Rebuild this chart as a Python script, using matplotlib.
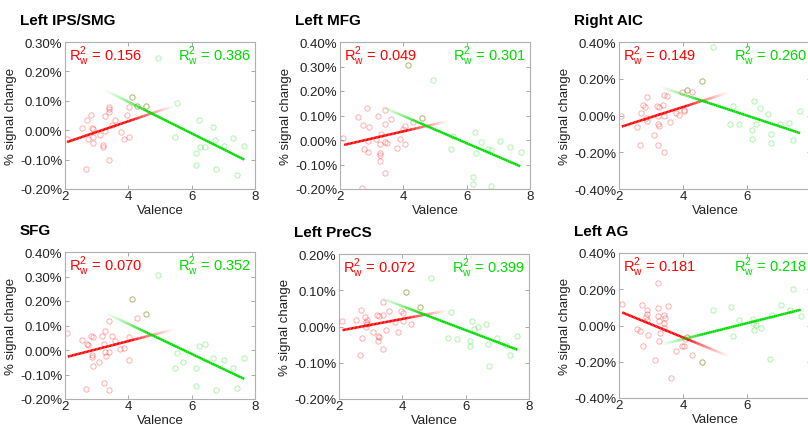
import numpy as np
import matplotlib
matplotlib.use("Agg")
import matplotlib.pyplot as plt
from matplotlib.collections import LineCollection
from matplotlib.colors import to_rgb

plt.rcParams['font.family'] = ['Liberation Sans', 'DejaVu Sans']
plt.rcParams['mathtext.fontset'] = 'custom'
plt.rcParams['mathtext.rm'] = 'Liberation Sans'

# ---- data (valence, % signal change) ----
titles = ["Left IPS/SMG", "Left MFG", "Right AIC", "SFG", "Left PreCS", "Left AG"]
r2_red = ["0.156", "0.049", "0.149", "0.070", "0.072", "0.181"]
r2_green = ["0.386", "0.301", "0.260", "0.352", "0.399", "0.218"]
ylims = [(-0.2, 0.3), (-0.2, 0.4), (-0.4, 0.4), (-0.2, 0.4), (-0.2, 0.2), (-0.4, 0.4)]
ysteps = [0.1, 0.1, 0.2, 0.1, 0.1, 0.2]

ips_red = [(2.07, -0.030), (2.54, 0.009), (2.68, 0.033), (2.82, 0.051), (2.86, 0.009),
           (2.87, 0.005), (2.73, -0.030), (2.87, -0.024), (2.87, -0.044), (2.65, -0.131),
           (3.10, -0.015), (3.21, -0.050), (3.21, -0.057), (3.25, -0.003), (3.26, 0.049),
           (3.40, -0.101), (3.40, 0.080), (3.40, 0.073), (3.38, 0.061), (3.58, 0.036),
           (3.48, 0.019), (3.76, -0.007), (3.86, -0.031), (4.03, -0.024), (3.95, 0.053),
           (4.02, 0.078)]
ips_both = [(4.10, 0.114), (4.27, 0.084), (4.56, 0.081)]
ips_green = [(4.93, 0.247), (5.54, 0.093), (5.46, -0.024), (6.22, 0.033), (6.15, -0.078),
             (6.15, -0.120), (6.26, -0.058), (6.42, -0.058), (6.66, 0.010), (6.73, -0.032),
             (6.76, -0.131), (7.03, -0.055), (7.32, -0.028), (7.43, -0.152), (7.65, -0.055)]
ips_red_fit = [(2.07, -0.040), (5.47, 0.084)]
ips_green_fit = [(3.21, 0.139), (7.66, -0.100)]

mfg_red = [(2.11, 0.008), (2.57, 0.093), (2.84, 0.129), (2.72, 0.060), (2.91, 0.053),
           (2.76, -0.037), (2.89, -0.004), (2.89, -0.048), (2.68, -0.196), (3.13, 0.003),
           (3.21, 0.099), (3.28, 0.026), (3.27, -0.018), (3.25, -0.052), (3.25, -0.061),
           (3.25, -0.086), (3.41, -0.007), (3.50, -0.012), (3.43, 0.124), (3.42, 0.067),
           (3.42, -0.135), (3.61, 0.084), (3.79, -0.034), (3.89, 0.004), (3.99, 0.044),
           (4.05, 0.059), (4.06, -0.015), (4.30, 0.075)]
mfg_both = [(4.14, 0.307), (4.59, 0.090)]
mfg_green = [(4.95, 0.244), (5.58, 0.018), (5.49, -0.035), (6.26, 0.033), (6.29, -0.054),
             (6.45, -0.010), (6.19, -0.151), (6.19, -0.178), (6.78, -0.188), (6.68, -0.038),
             (6.76, -0.042), (7.05, -0.004), (7.36, -0.029), (7.71, -0.050)]
mfg_red_fit = [(2.13, -0.020), (5.47, 0.079)]
mfg_green_fit = [(3.23, 0.141), (7.69, -0.107)]

aic_red = [(2.07, -0.005), (2.55, -0.061), (2.66, -0.159), (2.69, 0.013), (2.74, 0.056),
           (2.82, 0.047), (2.87, 0.101), (2.85, -0.013), (2.87, -0.031), (3.09, -0.106),
           (3.19, 0.054), (3.26, 0.047), (3.22, -0.004), (3.21, -0.045), (3.26, -0.058),
           (3.22, -0.162), (3.38, 0.058), (3.41, 0.110), (3.49, 0.105), (3.41, -0.005),
           (3.41, -0.197), (3.60, -0.036), (3.77, 0.013), (3.86, 0.005), (4.04, 0.032),
           (4.04, 0.022), (3.97, 0.126), (4.28, 0.128)]
aic_both = [(4.12, 0.141), (4.58, 0.190)]
aic_green = [(4.93, 0.372), (5.55, 0.052), (5.47, -0.047), (5.75, -0.047), (6.22, 0.078),
             (6.27, -0.047), (6.15, -0.081), (6.15, -0.128), (6.42, 0.040), (6.67, 0.007),
             (6.74, -0.103), (6.76, -0.150), (7.03, -0.045), (7.32, -0.040), (7.43, -0.134),
             (7.66, 0.025)]
aic_red_fit = [(2.09, -0.060), (5.47, 0.128)]
aic_green_fit = [(3.23, 0.159), (7.66, -0.096)]

sfg_red = [(2.07, 0.070), (2.54, 0.041), (2.68, 0.026), (2.72, 0.022), (2.82, 0.058),
           (2.87, 0.054), (2.85, -0.019), (2.86, -0.030), (2.87, -0.064), (2.66, -0.159),
           (3.08, -0.050), (3.18, 0.059), (3.25, 0.076), (3.22, 0.023), (3.25, -0.007),
           (3.28, -0.024), (3.22, -0.135), (3.40, -0.162), (3.40, 0.120), (3.48, 0.058),
           (3.59, 0.038), (3.39, -0.009), (3.75, 0.004), (3.86, 0.007), (4.01, 0.055),
           (4.03, -0.041), (4.26, 0.130)]
sfg_both = [(4.10, 0.207), (4.56, 0.145)]
sfg_green = [(4.93, 0.307), (5.53, -0.011), (5.47, -0.072), (5.74, -0.047), (6.22, 0.015),
             (6.42, 0.024), (6.15, -0.072), (6.15, -0.146), (6.68, -0.032), (6.76, -0.164),
             (7.03, -0.039), (7.32, -0.074), (7.42, -0.155), (7.66, -0.031)]
sfg_red_fit = [(2.09, -0.027), (5.47, 0.085)]
sfg_green_fit = [(3.23, 0.154), (7.66, -0.118)]

precs_red = [(2.10, 0.015), (2.55, 0.018), (2.71, 0.046), (2.74, -0.033), (2.67, -0.079),
             (2.82, 0.025), (2.89, 0.018), (2.86, 0.013), (2.89, 0.006), (2.86, -0.002),
             (3.08, -0.016), (3.20, 0.032), (3.26, 0.030), (3.22, -0.025), (3.26, -0.028),
             (3.23, -0.041), (3.40, 0.068), (3.39, 0.033), (3.40, -0.061), (3.49, -0.011),
             (3.58, 0.043), (3.77, 0.012), (3.86, -0.015), (3.95, 0.044), (4.01, 0.037),
             (4.02, 0.015), (4.26, 0.007)]
precs_both = [(4.10, 0.096), (4.55, 0.053)]
precs_green = [(4.91, 0.135), (5.53, 0.041), (5.45, -0.031), (5.72, -0.035), (6.20, 0.014),
               (6.25, -0.008), (6.39, -0.002), (6.14, -0.039), (6.14, -0.054), (6.64, 0.008),
               (6.70, -0.047), (6.73, -0.110), (7.00, -0.033), (7.27, -0.050), (7.39, -0.078),
               (7.63, -0.025)]
precs_red_fit = [(2.11, -0.010), (5.48, 0.045)]
precs_green_fit = [(3.22, 0.082), (7.63, -0.064)]

ag_red = [(2.10, 0.120), (2.57, -0.019), (2.67, -0.031), (2.72, 0.111), (2.76, -0.113),
          (2.87, 0.087), (2.89, 0.063), (2.85, 0.046), (2.89, 0.033), (2.91, -0.050),
          (3.12, -0.193), (3.21, 0.235), (3.23, 0.096), (3.23, 0.054), (3.26, 0.024),
          (3.28, -0.043), (3.24, -0.083), (3.42, 0.056), (3.44, 0.044), (3.42, 0.013),
          (3.42, -0.015), (3.52, 0.106), (3.62, -0.289), (3.79, -0.139), (3.97, -0.115),
          (4.03, -0.111), (4.05, -0.076), (4.29, -0.163)]
ag_both = [(4.12, -0.065), (4.58, -0.202)]
ag_green = [(4.95, 0.087), (5.49, 0.102), (5.57, -0.057), (5.76, 0.033), (6.19, 0.037),
            (6.19, 0.015), (6.29, 0.002), (6.23, -0.026), (6.45, -0.015), (6.71, -0.187),
            (6.77, 0.057), (7.06, 0.111), (7.35, 0.087), (7.45, 0.202), (7.69, 0.054)]
ag_red_fit = [(2.10, 0.072), (5.49, -0.174)]
ag_green_fit = [(3.24, -0.109), (7.68, 0.087)]

reds = [ips_red, mfg_red, aic_red, sfg_red, precs_red, ag_red]
boths = [ips_both, mfg_both, aic_both, sfg_both, precs_both, ag_both]
greens = [ips_green, mfg_green, aic_green, sfg_green, precs_green, ag_green]
red_fits = [ips_red_fit, mfg_red_fit, aic_red_fit, sfg_red_fit, precs_red_fit, ag_red_fit]
green_fits = [ips_green_fit, mfg_green_fit, aic_green_fit, sfg_green_fit, precs_green_fit, ag_green_fit]

RED = '#ff0000'
GREEN = '#00dd00'

# axes boxes in pixels: left, top, right, bottom
W, H = 808, 427
boxes = [(65, 43, 255, 190), (340, 43, 530, 190), (619, 43, 811, 190),
         (65, 253, 255, 400), (339, 255, 529, 400), (619, 254, 811, 399)]


def faded_line(ax, fit, color, fade_out):
    (x0, y0), (x1, y1) = fit
    t = np.linspace(0, 1, 80)
    xs = x0 + (x1 - x0) * t
    ys = y0 + (y1 - y0) * t
    pts = np.column_stack([xs, ys]).reshape(-1, 1, 2)
    segs = np.concatenate([pts[:-1], pts[1:]], axis=1)
    xm = 0.5 * (xs[:-1] + xs[1:])
    if fade_out:
        a = np.clip((x1 - xm) / (x1 - 4.1), 0, 1) ** 1.3
    else:
        a = np.clip((xm - x0) / (4.6 - x0), 0, 1) ** 1.3
    rgb = to_rgb(color)
    cols = [(rgb[0], rgb[1], rgb[2], v) for v in a]
    ax.add_collection(LineCollection(segs, colors=cols, linewidths=1.8, capstyle='butt'))


def circles(ax, pts, color):
    xs = [p[0] for p in pts]
    ys = [p[1] for p in pts]
    ax.plot(xs, ys, 'o', mfc='none', mec=color, ms=3.8, mew=0.7, alpha=0.32)


fig = plt.figure(figsize=(W / 100, H / 100), dpi=100)

for i in range(6):
    l, t, r, b = boxes[i]
    ax = fig.add_axes([l / W, 1 - b / H, (r - l) / W, (b - t) / H])
    circles(ax, reds[i], RED)
    circles(ax, boths[i], RED)
    circles(ax, boths[i], GREEN)
    circles(ax, greens[i], GREEN)
    faded_line(ax, red_fits[i], RED, True)
    faded_line(ax, green_fits[i], GREEN, False)

    lo, hi = ylims[i]
    ax.set_xlim(2, 8)
    ax.set_ylim(lo, hi)
    ax.set_xticks([2, 4, 6, 8])
    yt = np.arange(lo, hi + 1e-9, ysteps[i])
    ax.set_yticks(yt)
    ax.set_yticklabels([f"{v:.2f}%" if abs(v) > 1e-9 else "0.00%" for v in yt])
    ax.tick_params(direction='in', length=3, width=0.6, color='#999999',
                   top=True, right=True, labelsize=9.5, labelcolor='#222222')
    ax.tick_params(axis='x', pad=1)
    ax.tick_params(axis='y', pad=2)
    for s in ax.spines.values():
        s.set_color('#b0b0b0')
        s.set_linewidth(0.8)
    ax.set_xlabel("Valence", fontsize=9.5, labelpad=1, color='#222222')
    ax.set_ylabel("% signal change", fontsize=9.5, labelpad=2, color='#222222')

    ax.text(0.02, 0.99, r"R$_\mathregular{w}^\mathregular{2}$ = " + r2_red[i],
            transform=ax.transAxes, ha='left', va='top', color=RED, fontsize=10.5)
    ax.text(0.98, 0.99, r"R$_\mathregular{w}^\mathregular{2}$ = " + r2_green[i],
            transform=ax.transAxes, ha='right', va='top', color=GREEN, fontsize=10.5)
    ax.text(-45 / (r - l), 1 + 22 / (b - t), titles[i], transform=ax.transAxes,
            ha='left', va='center', fontsize=11, fontweight='bold')

fig.savefig("out.png", dpi=100)
